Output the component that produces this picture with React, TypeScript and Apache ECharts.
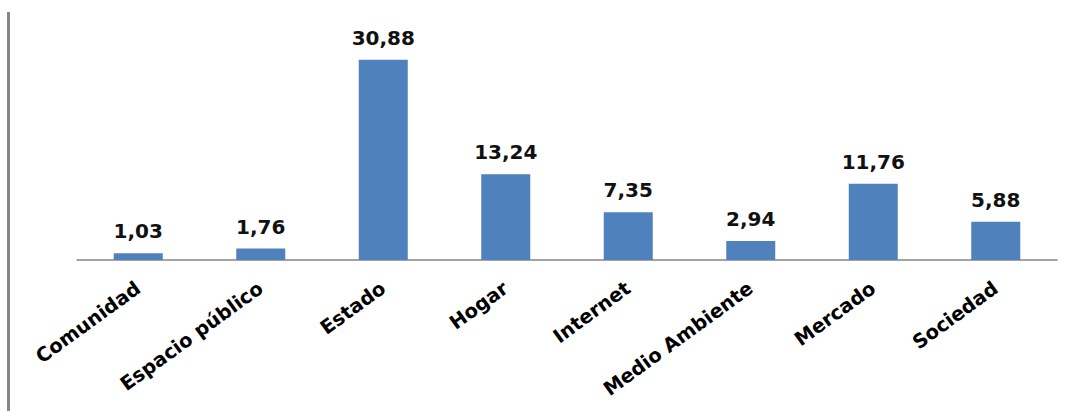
import React, { useEffect, useRef } from "react";
import * as echarts from "echarts";

const categories = ["Comunidad", "Espacio público", "Estado", "Hogar", "Internet", "Medio Ambiente", "Mercado", "Sociedad"];
const values = [1.03, 1.76, 30.88, 13.24, 7.35, 2.94, 11.76, 5.88];

export default function App() {
  const ref = useRef<HTMLDivElement>(null);
  useEffect(() => {
    const chart = echarts.init(ref.current!, null, { renderer: "svg" });
    chart.setOption({
      animation: false,
      grid: { left: 77, right: 20, top: 33, bottom: 151, containLabel: false },
      xAxis: {
        type: "category",
        data: categories,
        axisLine: { lineStyle: { color: "#868686", width: 1.5 } },
        axisTick: { show: false },
        axisLabel: {
          rotate: 36,
          interval: 0,
          margin: 26,
          color: "#000",
          fontFamily: "DejaVu Sans",
          fontWeight: "bold",
          fontSize: 19.5,
        },
      },
      yAxis: {
        type: "value",
        min: 0,
        max: 35,
        show: false,
        splitLine: { show: false },
      },
      series: [
        {
          type: "bar",
          data: values,
          barWidth: 49,
          itemStyle: { color: "#4F81BD" },
          label: {
            show: true,
            position: "top",
            distance: 12,
            color: "#111",
            fontFamily: "DejaVu Sans",
            fontWeight: "bold",
            fontSize: 20,
            formatter: (p: any) => p.value.toFixed(2).replace(".", ","),
          },
        },
      ],
      graphic: [
        {
          type: "line",
          shape: { x1: 8.5, y1: 12, x2: 8.5, y2: 411 },
          style: { stroke: "#868686", lineWidth: 3 },
        },
      ],
    });
    return () => chart.dispose();
  }, []);
  return <div ref={ref} style={{ width: 1077, height: 411, position: "absolute", left: 0, top: 0 }} />;
}
